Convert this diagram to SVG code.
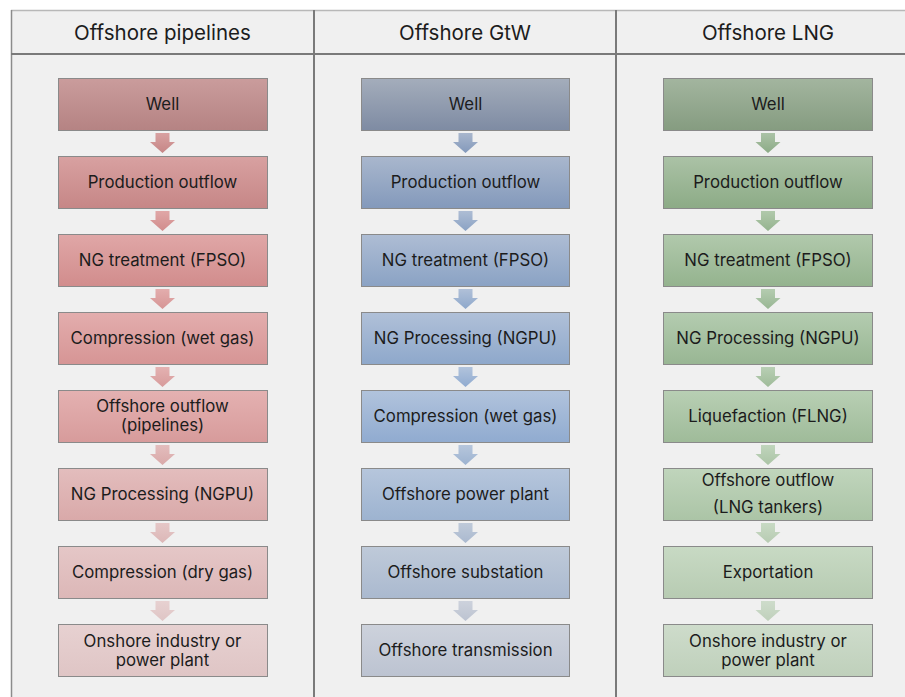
<svg xmlns="http://www.w3.org/2000/svg" width="905" height="697" viewBox="0 0 905 697">
<defs>
<linearGradient id="r0" x1="0" y1="0" x2="0" y2="1"><stop offset="0" stop-color="#ca9c9c"/><stop offset="1" stop-color="#b58383"/></linearGradient>
<linearGradient id="r1" x1="0" y1="0" x2="0" y2="1"><stop offset="0" stop-color="#d8a1a1"/><stop offset="1" stop-color="#c68686"/></linearGradient>
<linearGradient id="r2" x1="0" y1="0" x2="0" y2="1"><stop offset="0" stop-color="#e0a7a7"/><stop offset="1" stop-color="#d18c8c"/></linearGradient>
<linearGradient id="r3" x1="0" y1="0" x2="0" y2="1"><stop offset="0" stop-color="#e3adad"/><stop offset="1" stop-color="#d69595"/></linearGradient>
<linearGradient id="r4" x1="0" y1="0" x2="0" y2="1"><stop offset="0" stop-color="#e4b1b1"/><stop offset="1" stop-color="#d79b9b"/></linearGradient>
<linearGradient id="r5" x1="0" y1="0" x2="0" y2="1"><stop offset="0" stop-color="#e3bdbd"/><stop offset="1" stop-color="#d9a9a9"/></linearGradient>
<linearGradient id="r6" x1="0" y1="0" x2="0" y2="1"><stop offset="0" stop-color="#e5c7c7"/><stop offset="1" stop-color="#dcb7b7"/></linearGradient>
<linearGradient id="r7" x1="0" y1="0" x2="0" y2="1"><stop offset="0" stop-color="#e7d1d1"/><stop offset="1" stop-color="#dfc5c5"/></linearGradient>
<linearGradient id="b0" x1="0" y1="0" x2="0" y2="1"><stop offset="0" stop-color="#a4adbb"/><stop offset="1" stop-color="#7e8ba3"/></linearGradient>
<linearGradient id="b1" x1="0" y1="0" x2="0" y2="1"><stop offset="0" stop-color="#a9b7cd"/><stop offset="1" stop-color="#8399bb"/></linearGradient>
<linearGradient id="b2" x1="0" y1="0" x2="0" y2="1"><stop offset="0" stop-color="#aebdd4"/><stop offset="1" stop-color="#8aa2c4"/></linearGradient>
<linearGradient id="b3" x1="0" y1="0" x2="0" y2="1"><stop offset="0" stop-color="#b0c0d8"/><stop offset="1" stop-color="#8ea8cb"/></linearGradient>
<linearGradient id="b4" x1="0" y1="0" x2="0" y2="1"><stop offset="0" stop-color="#b1c3dc"/><stop offset="1" stop-color="#90abd0"/></linearGradient>
<linearGradient id="b5" x1="0" y1="0" x2="0" y2="1"><stop offset="0" stop-color="#b6c6dc"/><stop offset="1" stop-color="#9db3d0"/></linearGradient>
<linearGradient id="b6" x1="0" y1="0" x2="0" y2="1"><stop offset="0" stop-color="#bfcad9"/><stop offset="1" stop-color="#aab9cf"/></linearGradient>
<linearGradient id="b7" x1="0" y1="0" x2="0" y2="1"><stop offset="0" stop-color="#cdd2dc"/><stop offset="1" stop-color="#bcc3d1"/></linearGradient>
<linearGradient id="g0" x1="0" y1="0" x2="0" y2="1"><stop offset="0" stop-color="#a3b59f"/><stop offset="1" stop-color="#859c80"/></linearGradient>
<linearGradient id="g1" x1="0" y1="0" x2="0" y2="1"><stop offset="0" stop-color="#abc2a6"/><stop offset="1" stop-color="#8cab86"/></linearGradient>
<linearGradient id="g2" x1="0" y1="0" x2="0" y2="1"><stop offset="0" stop-color="#b1c9ac"/><stop offset="1" stop-color="#94b38e"/></linearGradient>
<linearGradient id="g3" x1="0" y1="0" x2="0" y2="1"><stop offset="0" stop-color="#b4ccb0"/><stop offset="1" stop-color="#98b693"/></linearGradient>
<linearGradient id="g4" x1="0" y1="0" x2="0" y2="1"><stop offset="0" stop-color="#b8cfb4"/><stop offset="1" stop-color="#9fbb99"/></linearGradient>
<linearGradient id="g5" x1="0" y1="0" x2="0" y2="1"><stop offset="0" stop-color="#c0d5bc"/><stop offset="1" stop-color="#abc4a6"/></linearGradient>
<linearGradient id="g6" x1="0" y1="0" x2="0" y2="1"><stop offset="0" stop-color="#c8dac4"/><stop offset="1" stop-color="#b7cbb2"/></linearGradient>
<linearGradient id="g7" x1="0" y1="0" x2="0" y2="1"><stop offset="0" stop-color="#cedccb"/><stop offset="1" stop-color="#bfd0bb"/></linearGradient>
<path id="arr" d="M-7,0 H7 V9 H12.5 L0,20 L-12.5,9 H-7 Z"/>
</defs>
<style>
.box{stroke:#8a8a8a;stroke-width:1}
.t{font-family:Inter,"Liberation Sans",Arial,sans-serif;font-size:16.8px;fill:#1c1c1c;text-anchor:middle}
.h{font-family:Inter,"Liberation Sans",Arial,sans-serif;font-size:20.5px;fill:#1c1c1c;text-anchor:middle}
.grid{stroke:#7a7a7a;stroke-width:2;fill:none}
</style>
<rect x="0" y="0" width="905" height="697" fill="#ffffff"/>
<rect x="11" y="10" width="894" height="687" fill="#f0f0f0"/>
<g id="table">
<line x1="11" y1="10.5" x2="905" y2="10.5" stroke="#b8b8b8" stroke-width="1.5"/>
<line x1="11.5" y1="10" x2="11.5" y2="697" stroke="#8c8c8c" stroke-width="1.5"/>
<line class="grid" x1="11" y1="54" x2="905" y2="54"/>
<line class="grid" x1="314" y1="10" x2="314" y2="697"/>
<line class="grid" x1="616" y1="10" x2="616" y2="697"/>
</g>
<g id="headers">
<text class="h" x="162.5" y="40">Offshore pipelines</text>
<text class="h" x="465" y="40">Offshore GtW</text>
<text class="h" x="768" y="40">Offshore LNG</text>
</g>
<g id="connectors">
<use href="#arr" x="162.5" y="133" fill="url(#r1)"/>
<use href="#arr" x="162.5" y="211" fill="url(#r2)"/>
<use href="#arr" x="162.5" y="289" fill="url(#r3)"/>
<use href="#arr" x="162.5" y="367" fill="url(#r4)"/>
<use href="#arr" x="162.5" y="445" fill="url(#r5)"/>
<use href="#arr" x="162.5" y="523" fill="url(#r6)"/>
<use href="#arr" x="162.5" y="601" fill="url(#r7)"/>
<use href="#arr" x="465.5" y="133" fill="url(#b1)"/>
<use href="#arr" x="465.5" y="211" fill="url(#b2)"/>
<use href="#arr" x="465.5" y="289" fill="url(#b3)"/>
<use href="#arr" x="465.5" y="367" fill="url(#b4)"/>
<use href="#arr" x="465.5" y="445" fill="url(#b5)"/>
<use href="#arr" x="465.5" y="523" fill="url(#b6)"/>
<use href="#arr" x="465.5" y="601" fill="url(#b7)"/>
<use href="#arr" x="768" y="133" fill="url(#g1)"/>
<use href="#arr" x="768" y="211" fill="url(#g2)"/>
<use href="#arr" x="768" y="289" fill="url(#g3)"/>
<use href="#arr" x="768" y="367" fill="url(#g4)"/>
<use href="#arr" x="768" y="445" fill="url(#g5)"/>
<use href="#arr" x="768" y="523" fill="url(#g6)"/>
<use href="#arr" x="768" y="601" fill="url(#g7)"/>
</g>
<g id="p-well"><rect class="box" x="58.5" y="78.5" width="209" height="52" fill="url(#r0)"/><text class="t" x="162.5" y="110">Well</text></g>
<g id="p-prod"><rect class="box" x="58.5" y="156.5" width="209" height="52" fill="url(#r1)"/><text class="t" x="162.5" y="188">Production outflow</text></g>
<g id="p-treat"><rect class="box" x="58.5" y="234.5" width="209" height="52" fill="url(#r2)"/><text class="t" x="162.5" y="266">NG treatment (FPSO)</text></g>
<g id="p-compwet"><rect class="box" x="58.5" y="312.5" width="209" height="52" fill="url(#r3)"/><text class="t" x="162.5" y="344">Compression (wet gas)</text></g>
<g id="p-outflow"><rect class="box" x="58.5" y="390.5" width="209" height="52" fill="url(#r4)"/><text class="t" x="162.5" y="412">Offshore outflow</text><text class="t" x="162.5" y="431">(pipelines)</text></g>
<g id="p-ngpu"><rect class="box" x="58.5" y="468.5" width="209" height="52" fill="url(#r5)"/><text class="t" x="162.5" y="500">NG Processing (NGPU)</text></g>
<g id="p-compdry"><rect class="box" x="58.5" y="546.5" width="209" height="52" fill="url(#r6)"/><text class="t" x="162.5" y="578">Compression (dry gas)</text></g>
<g id="p-onshore"><rect class="box" x="58.5" y="624.5" width="209" height="52" fill="url(#r7)"/><text class="t" x="162.5" y="647">Onshore industry or</text><text class="t" x="162.5" y="666">power plant</text></g>
<g id="g-well"><rect class="box" x="361.5" y="78.5" width="208" height="52" fill="url(#b0)"/><text class="t" x="465.5" y="110">Well</text></g>
<g id="g-prod"><rect class="box" x="361.5" y="156.5" width="208" height="52" fill="url(#b1)"/><text class="t" x="465.5" y="188">Production outflow</text></g>
<g id="g-treat"><rect class="box" x="361.5" y="234.5" width="208" height="52" fill="url(#b2)"/><text class="t" x="465.5" y="266">NG treatment (FPSO)</text></g>
<g id="g-ngpu"><rect class="box" x="361.5" y="312.5" width="208" height="52" fill="url(#b3)"/><text class="t" x="465.5" y="344">NG Processing (NGPU)</text></g>
<g id="g-compwet"><rect class="box" x="361.5" y="390.5" width="208" height="52" fill="url(#b4)"/><text class="t" x="465.5" y="422">Compression (wet gas)</text></g>
<g id="g-power"><rect class="box" x="361.5" y="468.5" width="208" height="52" fill="url(#b5)"/><text class="t" x="465.5" y="500">Offshore power plant</text></g>
<g id="g-sub"><rect class="box" x="361.5" y="546.5" width="208" height="52" fill="url(#b6)"/><text class="t" x="465.5" y="578">Offshore substation</text></g>
<g id="g-trans"><rect class="box" x="361.5" y="624.5" width="208" height="52" fill="url(#b7)"/><text class="t" x="465.5" y="656">Offshore transmission</text></g>
<g id="l-well"><rect class="box" x="663.5" y="78.5" width="209" height="52" fill="url(#g0)"/><text class="t" x="768" y="110">Well</text></g>
<g id="l-prod"><rect class="box" x="663.5" y="156.5" width="209" height="52" fill="url(#g1)"/><text class="t" x="768" y="188">Production outflow</text></g>
<g id="l-treat"><rect class="box" x="663.5" y="234.5" width="209" height="52" fill="url(#g2)"/><text class="t" x="768" y="266">NG treatment (FPSO)</text></g>
<g id="l-ngpu"><rect class="box" x="663.5" y="312.5" width="209" height="52" fill="url(#g3)"/><text class="t" x="768" y="344">NG Processing (NGPU)</text></g>
<g id="l-flng"><rect class="box" x="663.5" y="390.5" width="209" height="52" fill="url(#g4)"/><text class="t" x="768" y="422">Liquefaction (FLNG)</text></g>
<g id="l-outflow"><rect class="box" x="663.5" y="468.5" width="209" height="52" fill="url(#g5)"/><text class="t" x="768" y="486">Offshore outflow</text><text class="t" x="768" y="513">(LNG tankers)</text></g>
<g id="l-export"><rect class="box" x="663.5" y="546.5" width="209" height="52" fill="url(#g6)"/><text class="t" x="768" y="578">Exportation</text></g>
<g id="l-onshore"><rect class="box" x="663.5" y="624.5" width="209" height="52" fill="url(#g7)"/><text class="t" x="768" y="647">Onshore industry or</text><text class="t" x="768" y="666">power plant</text></g>
</svg>
